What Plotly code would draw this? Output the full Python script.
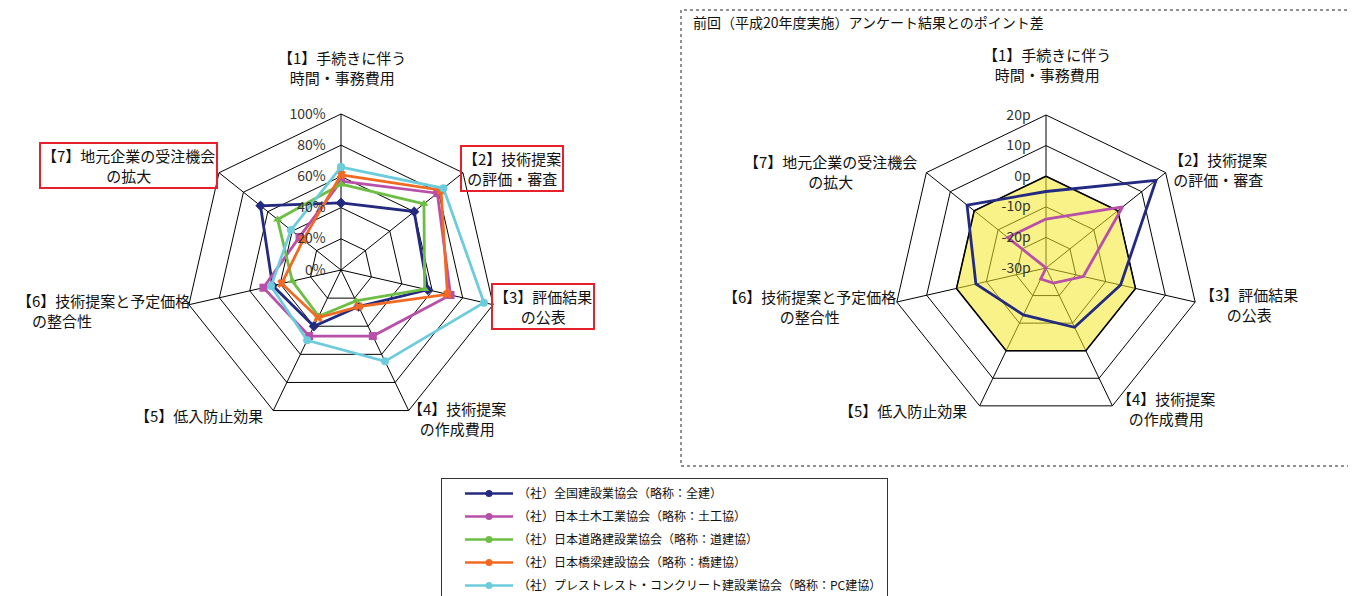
import plotly.graph_objects as go

# --- data ---
categories = ["手続きに伴う時間・事務費用", "技術提案の評価・審査", "評価結果の公表",
              "技術提案の作成費用", "低入防止効果", "技術提案と予定価格の整合性",
              "地元企業の受注機会の拡大"]

groups = ["（社）全国建設業協会（略称：全建）",
          "（社）日本土木工業協会（略称：土工協）",
          "（社）日本道路建設業協会（略称：道建協）",
          "（社）日本橋梁建設協会（略称：橋建協）",
          "（社）プレストレスト・コンクリート建設業協会（略称：PC建協）"]

# share of answers (%) per item, left chart
zenken = [43, 60, 57, 26, 40, 45, 66]
dokokyo = [57, 79, 72, 47, 47, 51, 34]
dokenkyo = [55, 68, 55, 22, 33, 32, 52]
kyokenkyo = [61, 82, 70, 26, 34, 39, 31]
pckenkyo = [66, 84, 94, 65, 50, 46, 41]

# point difference vs. previous survey (H20), right chart
diff_zenken = [-5, 16, -5, -8.5, -13, -6.5, 3]
diff_dokokyo = [-14, 2, -17.5, -24.5, -26, -30, -14]
zero_line = [0, 0, 0, 0, 0, 0, 0]

pct_ticks = [0, 20, 40, 60, 80, 100]
pct_labels = ["0%", "20%", "40%", "60%", "80%", "100%"]
pt_ticks = [-30, -20, -10, 0, 10, 20]
pt_labels = ["-30p", "-20p", "-10p", "0p", "10p", "20p"]

colors = ["#232A80", "#B84FA8", "#6DBE45", "#F26A22", "#6CCCDC"]
symbols = ["diamond", "square", "triangle-up", "x", "circle"]

FONT = "Noto Sans CJK JP"


def closed(vals):
    return list(vals) + [vals[0]]


theta = closed(categories)

fig = go.Figure()

left_series = [zenken, dokokyo, dokenkyo, kyokenkyo, pckenkyo]
for vals, name, col, sym in zip(left_series, groups, colors, symbols):
    fig.add_trace(go.Scatterpolar(
        r=closed(vals), theta=theta, mode="lines+markers", name=name,
        line=dict(color=col, width=2.8),
        marker=dict(symbol=sym, size=8, color=col),
        showlegend=False, subplot="polar",
    ))

# right chart: yellow 0p area first, then the two series
fig.add_trace(go.Scatterpolar(
    r=closed(zero_line), theta=theta, mode="lines", fill="toself",
    fillcolor="rgba(242,232,40,0.55)", line=dict(color="black", width=1.6),
    showlegend=False, subplot="polar2", hoverinfo="skip",
))
for vals, idx in [(diff_zenken, 0), (diff_dokokyo, 1)]:
    fig.add_trace(go.Scatterpolar(
        r=closed(vals), theta=theta, mode="lines+markers", name=groups[idx],
        line=dict(color=colors[idx], width=2.8),
        marker=dict(symbol=symbols[idx], size=8, color=colors[idx]),
        showlegend=False, subplot="polar2",
    ))

# legend entries (line with round markers, as in the original)
for i, (name, col) in enumerate(zip(groups, colors)):
    fig.add_trace(go.Scatterpolar(
        r=[None], theta=[None], mode="lines+markers", name=name,
        line=dict(color=col, width=2.5), marker=dict(symbol="circle", size=7, color=col),
        legendgroup=str(i), subplot="polar",
    ))

grid = dict(gridcolor="black", gridwidth=1)


def polar_cfg(xd, yd, rng, tv, tt):
    return dict(
        domain=dict(x=xd, y=yd), bgcolor="rgba(0,0,0,0)", gridshape="linear",
        angularaxis=dict(direction="clockwise", rotation=90, showticklabels=False,
                         ticks="", linecolor="black", linewidth=1, **grid),
        radialaxis=dict(range=rng, tickvals=tv, ticktext=tt, angle=90, tickangle=90,
                        side="counterclockwise", showline=False,
                        ticks="outside", ticklen=10, tickcolor="rgba(0,0,0,0)",
                        tickfont=dict(size=14, color="#333333", family=FONT), **grid),
    )


# the page puts the figure 8px in from the top-left corner
OFF = 8
W, H = 1356 - OFF, 596 - OFF


def px(x, y):
    return (x - OFF) / W, 1 - (y - OFF) / H


def domain(cx, cy, r):
    x0, y0 = px(cx - r, cy + r)
    x1, y1 = px(cx + r, cy - r)
    return [x0, x1], [y0, y1]


annotations = []
left_labels = [
    ("【1】手続きに伴う<br>時間・事務費用", 342, 67, False, "center"),
    ("【2】技術提案<br>の評価・審査", 512, 168, True, "center"),
    ("【3】評価結果<br>の公表", 543, 306, True, "center"),
    ("【4】技術提案<br>の作成費用", 457, 418, False, "center"),
    ("【5】低入防止効果", 199, 415, False, "center"),
    ("【6】技術提案と予定価格<br>　の整合性", 103, 310, False, "left"),
    ("【7】地元企業の受注機会<br>の拡大", 128, 166, True, "center"),
]
right_labels = [
    ("【1】手続きに伴う<br>時間・事務費用", 1047, 64),
    ("【2】技術提案<br>の評価・審査", 1218, 169),
    ("【3】評価結果<br>の公表", 1249, 305),
    ("【4】技術提案<br>の作成費用", 1166, 408),
    ("【5】低入防止効果", 903, 410),
    ("【6】技術提案と予定価格<br>の整合性", 810, 306),
    ("【7】地元企業の受注機会<br>の拡大", 830, 171),
]
for text, x, y, boxed, al in left_labels:
    xx, yy = px(x, y)
    a = dict(text=text, x=xx, y=yy, xref="paper", yref="paper", showarrow=False,
             xanchor="center", yanchor="middle",
             align=al, font=dict(size=15, color="#111111", family=FONT))
    if boxed:
        a.update(bordercolor="#E8202A", borderwidth=2, borderpad=1)
    annotations.append(a)
for text, x, y in right_labels:
    xx, yy = px(x, y)
    annotations.append(dict(text=text, x=xx, y=yy, xref="paper", yref="paper",
                            showarrow=False, align="center",
                            xanchor="center", yanchor="middle",
                            font=dict(size=15, color="#111111", family=FONT)))

tx, ty = px(691, 22)
annotations.append(dict(text="前回（平成20年度実施）アンケート結果とのポイント差", x=tx, y=ty,
                        xref="paper", yref="paper", xanchor="left", yanchor="middle",
                        showarrow=False,
                        font=dict(size=14, color="#111111", family=FONT)))

lx, ly = px(441, 478)
rx0, ry0 = px(681, 466)
rx1, ry1 = px(1356, 10)
pd1 = domain(341, 270, 156)
pd2 = domain(1046, 268, 153)

fig.update_layout(
    width=W, height=H, margin=dict(l=0, r=0, t=0, b=0, autoexpand=False),
    paper_bgcolor="white", plot_bgcolor="white",
    font=dict(family=FONT),
    polar=polar_cfg(pd1[0], pd1[1], [0, 100], pct_ticks, pct_labels),
    polar2=polar_cfg(pd2[0], pd2[1], [-30, 20], pt_ticks, pt_labels),
    annotations=annotations,
    shapes=[dict(type="rect", xref="paper", yref="paper",
                 x0=rx0, x1=rx1, y0=ry0, y1=ry1,
                 line=dict(color="#222222", width=1, dash="dot"))],
    legend=dict(x=lx, y=ly, xanchor="left", yanchor="top",
                bgcolor="white", bordercolor="#333333", borderwidth=1,
                font=dict(size=12, color="#111111", family=FONT),
                traceorder="grouped", tracegroupgap=4, itemwidth=48, indentation=18),
)

fig.write_html("out.html")
